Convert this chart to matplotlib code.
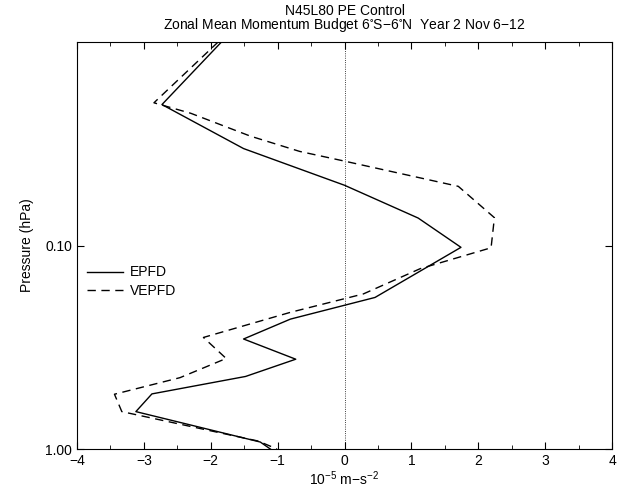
# Zonal mean momentum budget, EPFD vs VEPFD profile
import numpy as np
import matplotlib.pyplot as plt

plt.rcParams['font.family'] = ['Liberation Sans', 'DejaVu Sans']
plt.rcParams['mathtext.default'] = 'regular'

# EPFD (solid)
epfd_x = [-1.84, -2.73, -1.51, 0.00, 1.10, 1.74, 0.455, -0.81, -1.51, -0.73,
          -1.48, -2.88, -3.12, -1.26, -1.11]
epfd_p = [0.010, 0.0203, 0.0334, 0.0506, 0.0733, 0.1021, 0.180, 0.230, 0.288, 0.362,
          0.440, 0.536, 0.655, 0.924, 1.00]

# VEPFD (dashed)
vepfd_x = [-1.89, -2.85, -2.30, -1.41, -0.67, 0.00, 1.70, 2.24, 2.19, 1.13, 0.28,
           -0.81, -2.11, -1.77, -2.46, -3.44, -3.33, -1.29, -1.01]
vepfd_p = [0.010, 0.0199, 0.0224, 0.0290, 0.0345, 0.0385, 0.0512, 0.0730, 0.1026, 0.130,
           0.173, 0.213, 0.283, 0.359, 0.446, 0.538, 0.655, 0.914, 1.00]

fig = plt.figure(figsize=(6.24, 4.91), dpi=100)
ax = fig.add_axes([0.1234, 0.0855, 0.8576, 0.829])

ax.plot(epfd_x, epfd_p, color='k', linestyle='-', linewidth=1.0, label='EPFD')
ax.plot(vepfd_x, vepfd_p, color='k', linestyle=(0, (6, 4)), linewidth=1.0, label='VEPFD')
ax.axvline(0, color='k', linestyle=':', linewidth=0.6)

ax.set_yscale('log')
ax.set_ylim(1.0, 0.01)
ax.set_xlim(-4, 4)
ax.set_yticks([0.1, 1.0])
ax.set_yticklabels(['0.10', '1.00'])
ax.yaxis.set_minor_locator(plt.NullLocator())
ax.set_xticks(np.arange(-4, 5, 1))
ax.set_xticks(np.arange(-4, 4.5, 0.5), minor=True)
ax.tick_params(which='both', direction='in', top=True, right=True, labelsize=10)
ax.tick_params(which='major', length=5)
ax.tick_params(which='minor', length=3)

ax.set_title('N45L80 PE Control\nZonal Mean Momentum Budget 6$^{\\circ}$S\u22126$^{\\circ}$N  Year 2 Nov 6\u221212',
             fontsize=10, linespacing=0.9, pad=9)
ax.set_xlabel('10$^{-5}$ m\u2212s$^{-2}$', fontsize=10, labelpad=1)
ax.set_ylabel('Pressure (hPa)', fontsize=10, labelpad=8)
ax.legend(loc='upper left', bbox_to_anchor=(0.0, 0.475), frameon=False, fontsize=10,
          handlelength=2.6, handletextpad=0.5, borderaxespad=0.3, labelspacing=0.3)

plt.savefig('out.png', dpi=100)
